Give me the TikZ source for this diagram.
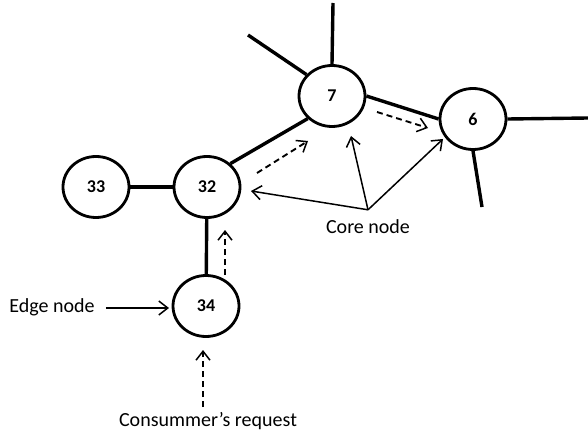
\documentclass[tikz,border=0pt]{standalone}
\usepackage{fontspec}
\setmainfont{Carlito}
\usetikzlibrary{shapes.geometric,arrows.meta}

\tikzset{
  peer/.style={ellipse, draw, line width=2.8pt, minimum width=66pt, minimum height=61pt,
    inner sep=0pt, font=\fontsize{18}{21}\selectfont\bfseries},
  link/.style={line width=3.4pt},
  tip/.style={-{Straight Barb[length=9pt,width=14pt,line width=1.5pt]}},
  req/.style={tip, line width=1.9pt, dash pattern=on 6pt off 4pt},
  point/.style={tip, line width=1.5pt},
  caption/.style={font=\fontsize{20}{24}\selectfont, inner sep=0pt}
}

\begin{document}
\begin{tikzpicture}[x=1pt, y=-1pt]
  \useasboundingbox (0,0) rectangle (588,438);

  % network nodes
  \node[peer] (n7)  at (332,96)  {7};
  \node[peer] (n6)  at (473,119) {6};
  \node[peer] (n32) at (207,187) {32};
  \node[peer] (n33) at (96,187)  {33};
  \node[peer] (n34) at (206,306) {34};

  % free ends of the outgoing links
  \coordinate (up7)    at (333,3);
  \coordinate (left7)  at (248,35);
  \coordinate (right6) at (588,118);
  \coordinate (down6)  at (482,207);

  % links
  \draw[link] (n33) -- (n32);
  \draw[link] (n32) -- (n34);
  \draw[link] (n32.45) -- (n7.223);
  \draw[link] (n7.east) -- (n6.west);
  \draw[link] (n7.north) -- (up7);
  \draw[link] (n7.140) -- (left7);
  \draw[link] (n6.east) -- (right6);
  \draw[link] (n6.south) -- (down6);

  % labels
  \node[caption] (edge)    at (52,307)  {Edge node};
  \node[caption] (core)    at (368,227) {Core node};
  \node[caption] (request) at (208,421) {Consummer’s request};

  % request path
  \coordinate (reqstart) at ([shift={(-5,-5)}]request.north);
  \draw[req] (reqstart) -- ([shift={(-3,44)}]n34.center);
  \draw[req] ([shift={(19,-31)}]n34.center) -- ([shift={(18,43)}]n32.center);
  \draw[req] ([shift={(50,-14)}]n32.center) -- ([shift={(-24,45)}]n7.center);
  \draw[req] ([shift={(45,16)}]n7.center) -- ([shift={(-45,9)}]n6.center);

  % pointers
  \draw[point] ([shift={(11,1)}]edge.east) -- ([shift={(-37,2)}]n34.center);
  \coordinate (hub) at ([shift={(0,-10)}]core.north);
  \draw[point] (hub) -- ([shift={(44,4)}]n32.center);
  \draw[point] (hub) -- ([shift={(19,40)}]n7.center);
  \draw[point] (hub) -- ([shift={(-30,20)}]n6.center);
\end{tikzpicture}
\end{document}
